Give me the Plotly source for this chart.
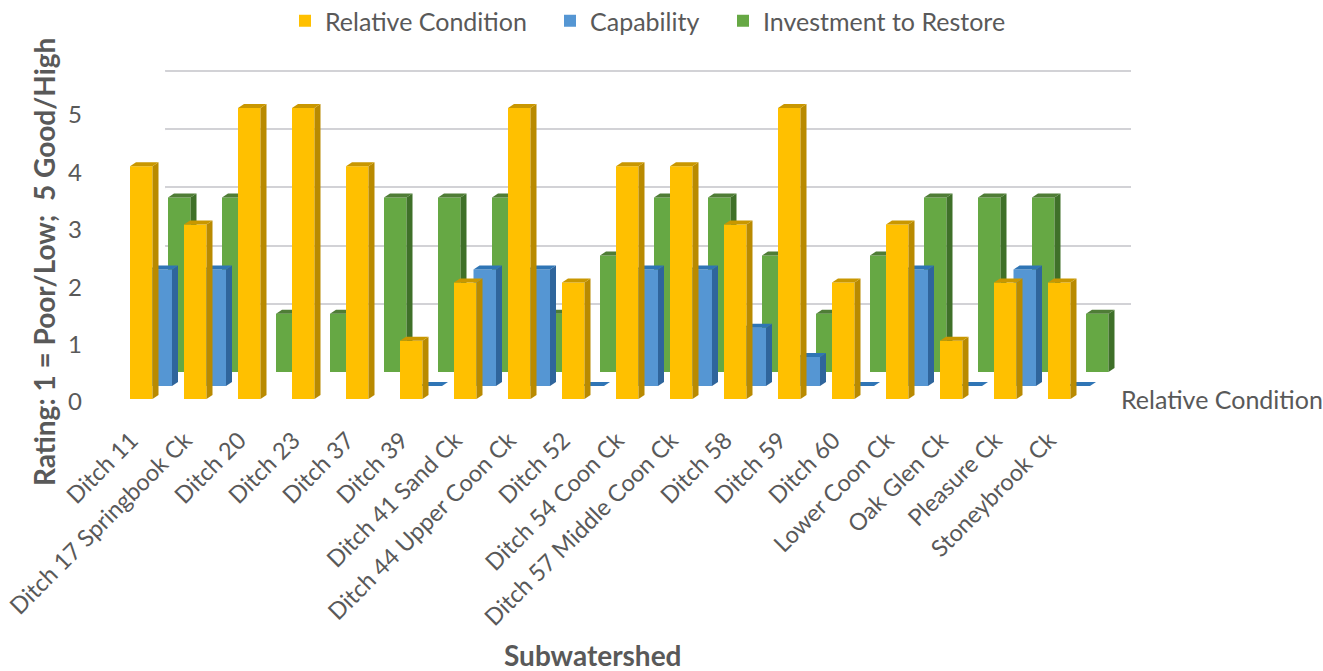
import plotly.graph_objects as go

categories = ["Ditch 11", "Ditch 17 Springbook Ck", "Ditch 20", "Ditch 23", "Ditch 37", "Ditch 39",
              "Ditch 41 Sand Ck", "Ditch 44 Upper Coon Ck", "Ditch 52", "Ditch 54 Coon Ck",
              "Ditch 57 Middle Coon Ck", "Ditch 58", "Ditch 59", "Ditch 60", "Lower Coon Ck",
              "Oak Glen Ck", "Pleasure Ck", "Stoneybrook Ck"]
relative_condition = [4, 3, 5, 5, 4, 1, 2, 5, 2, 4, 4, 3, 5, 2, 3, 1, 2, 2]
capability = [2, 2, None, None, None, 0, 2, 2, 0, 2, 2, 1, 0.5, 0, 2, 0, 2, 0]
investment = [3, 3, 1, 1, 3, 3, 3, 1, 2, 3, 3, 2, 1, 2, 3, 3, 3, 1]
rating_ticks = [0, 1, 2, 3, 4, 5]

W, H = 1323, 671
PX_X = 54.0      # pixels per category
PX_Y = 58.2      # pixels per rating unit
X0 = 141.25      # pixel of category 0 on the front plane
Y0 = 399.0       # pixel of rating 0 on the front plane
BAR_W = 22.5 / PX_X
DEPTH_X = 6.0 / PX_X
DEPTH_Y = 4.0 / PX_Y
INK = "#595959"
FONT = "Lato"


def axes(left, right, top, bottom, shift_x, shift_y):
    """Axis pair whose scale is the same on every plane, moved back by a pixel shift."""
    l, r, t, b = left + shift_x, right + shift_x, top - shift_y, bottom - shift_y
    xr = [(left - X0) / PX_X, (right - X0) / PX_X]
    yr = [(Y0 - bottom) / PX_Y, (Y0 - top) / PX_Y]
    xa = dict(domain=[l / W, r / W], range=xr, showgrid=False, zeroline=False, showline=False,
              showticklabels=False, ticks="", fixedrange=True)
    ya = dict(domain=[1 - b / H, 1 - t / H], range=yr, showgrid=False, zeroline=False, showline=False,
              showticklabels=False, ticks="", fixedrange=True)
    return xa, ya


def faces(values):
    side_x, side_y, top_x, top_y = [], [], [], []
    for i, v in enumerate(values):
        if v is None:
            continue
        a, b = i - BAR_W / 2, i + BAR_W / 2
        side_x += [b, b + DEPTH_X, b + DEPTH_X, b, b, None]
        side_y += [0, DEPTH_Y, v + DEPTH_Y, v, 0, None]
        top_x += [a, a + DEPTH_X, b + DEPTH_X, b, a, None]
        top_y += [v, v + DEPTH_Y, v + DEPTH_Y, v, v, None]
    return side_x, side_y, top_x, top_y


def poly(x, y, color, xa, ya):
    return go.Scatter(x=x, y=y, mode="lines", fill="toself", fillcolor=color,
                      line=dict(width=0, color=color), showlegend=False, hoverinfo="skip",
                      cliponaxis=False, xaxis=xa, yaxis=ya)


series = [
    ("Relative Condition", relative_condition, "x4", "y4", "#ffc000", "#b98a00", "#c99700", "legend"),
    ("Capability", capability, "x3", "y3", "#5596d3", "#2f659c", "#2f75b5", "legend2"),
    ("Investment to Restore", investment, "x2", "y2", "#66a844", "#3f7029", "#4f7d36", "legend3"),
]

fig = go.Figure()

# Faint edges running from the front plane back to the wall, drawn on the wall plane
WALL_DX, WALL_DY = 52.0 / PX_X, 37.5 / PX_Y
wall_left = (165 - X0) / PX_X
edge_x, edge_y = [], []
for t in rating_ticks:
    edge_x += [wall_left, wall_left - WALL_DX, None]
    edge_y += [t, t - WALL_DY, None]
fig.add_trace(go.Scatter(x=edge_x, y=edge_y, mode="lines", line=dict(color="#e6e6ee", width=2),
                         showlegend=False, hoverinfo="skip", cliponaxis=False, xaxis="x", yaxis="y"))

for name, vals, xa, ya, front, side, top, leg in series:
    fig.add_trace(go.Bar(x=list(range(len(categories))), y=vals, name=name, width=BAR_W,
                         marker=dict(color=front, line=dict(width=0)), cliponaxis=False,
                         xaxis=xa, yaxis=ya, hoverinfo="skip", legend=leg, showlegend=True))
for name, vals, xa, ya, front, side, top, leg in series:
    sx, sy, tx, ty = faces(vals)
    fig.add_trace(poly(sx, sy, side, xa, ya))
    fig.add_trace(poly(tx, ty, top, xa, ya))

# Axis that only carries the rating labels, whose spacing is slightly tighter than the bars'
LABEL_PX = 57.4
LABEL_ZERO = 402.0
fig.add_trace(go.Scatter(x=[], y=[], showlegend=False, hoverinfo="skip", xaxis="x4", yaxis="y5"))

wall_x, wall_y = axes(165, 1131, 72, 399, 0, 37)
wall_y.update(showgrid=True, gridcolor="#d2d2d6", gridwidth=2, tickvals=rating_ticks)
green_x, green_y = axes(100, 1200, 40, 399, 38, 27)
blue_x, blue_y = axes(100, 1200, 40, 399, 19.5, 13)
gold_x, gold_y = axes(100, 1200, 40, 399, 0, 0)
gold_x.update(showticklabels=True, tickmode="array", tickvals=list(range(len(categories))),
              ticktext=categories, tickangle=-45, tickfont=dict(family=FONT, size=23.5, color=INK),
              anchor="y4", ticklabelstandoff=22, ticklabelshift=-10)
gold_y.update(anchor="x4")
label_y = dict(domain=[1 - LABEL_ZERO / H, 1 - 40 / H], range=[0, (LABEL_ZERO - 40) / LABEL_PX],
               anchor="x4", showgrid=False, zeroline=False, showline=False, ticks="", fixedrange=True,
               showticklabels=True, tickmode="array", tickvals=rating_ticks,
               tickfont=dict(family=FONT, size=24, color=INK), ticklabelstandoff=17)
wall_x.update(anchor="y")
wall_y.update(anchor="x")
green_x.update(anchor="y2")
green_y.update(anchor="x2")
blue_x.update(anchor="y3")
blue_y.update(anchor="x3")


def legend_at(px):
    return dict(orientation="h", x=px / W, xanchor="left", y=1 - 21 / H, yanchor="middle",
                font=dict(family=FONT, size=25, color=INK), bgcolor="rgba(0,0,0,0)")


fig.update_layout(
    width=W, height=H, autosize=False, margin=dict(l=0, r=0, t=0, b=0, autoexpand=False),
    paper_bgcolor="white", plot_bgcolor="rgba(0,0,0,0)", barmode="overlay", hovermode=False,
    font=dict(family=FONT, color=INK),
    xaxis=wall_x, yaxis=wall_y, xaxis2=green_x, yaxis2=green_y,
    xaxis3=blue_x, yaxis3=blue_y, xaxis4=gold_x, yaxis4=gold_y, yaxis5=label_y,
    legend=legend_at(285), legend2=legend_at(550), legend3=legend_at(723),
    annotations=[
        dict(text="<b>Subwatershed</b>", x=593 / W, y=1 - 655 / H, xref="paper", yref="paper",
             xanchor="center", yanchor="middle", showarrow=False,
             font=dict(family=FONT, size=28, color=INK)),
        dict(text="<b>Rating: 1 = Poor/Low;  5 Good/High</b>", x=44 / W, y=1 - 262 / H, xref="paper",
             yref="paper", xanchor="center", yanchor="middle", textangle=-90, showarrow=False,
             font=dict(family=FONT, size=28, color=INK)),
        dict(text="Relative Condition", x=1222 / W, y=1 - 399 / H, xref="paper", yref="paper",
             xanchor="center", yanchor="middle", showarrow=False,
             font=dict(family=FONT, size=25, color=INK)),
    ],
)

fig.write_html("out.html", config=dict(displayModeBar=False),
               post_script="document.body.style.margin='0';")
